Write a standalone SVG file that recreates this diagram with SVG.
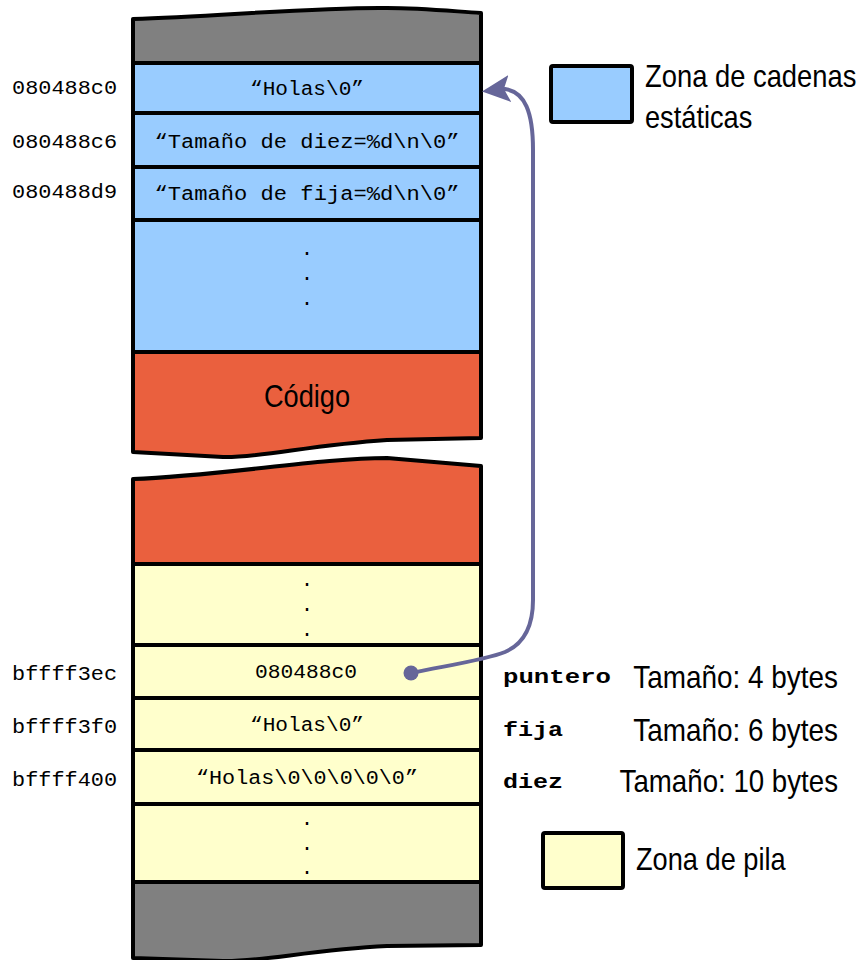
<svg xmlns="http://www.w3.org/2000/svg" width="859" height="960" viewBox="0 0 859 960">
<style>
.s{stroke:#000;stroke-width:4;stroke-linejoin:round}
.g{fill:#808080}.b{fill:#99ccff}.c{fill:#ea603e}.y{fill:#ffffcc}
.m{font-family:"Liberation Mono","DejaVu Sans Mono",monospace;font-size:20px;fill:#000}
.mb{font-family:"Liberation Mono","DejaVu Sans Mono",monospace;font-size:21px;font-weight:bold;fill:#000}
.t{font-family:"Liberation Sans",Arial,sans-serif;font-size:32px;fill:#000}
.ct{text-anchor:middle}
</style>
<defs>
<marker id="ah" markerWidth="8" markerHeight="8" refX="6" refY="4" orient="auto" markerUnits="strokeWidth">
<path d="M0,0.6 L7,4 L0,7.4 L1.5,4 Z" fill="#666699"/>
</marker>
</defs>
<g id="top-gray"><path class="s g" d="M133,19 C220,16 320,7 387,8 C420,8 450,11 481,13 L481,63 L133,63 Z"/></g>
<g id="s1"><rect class="s b" x="133" y="63" width="348" height="50"/><text class="m ct" x="307" y="95" textLength="114" lengthAdjust="spacingAndGlyphs">“Holas\0”</text></g>
<g id="s2"><rect class="s b" x="133" y="113" width="348" height="54"/><text class="m ct" x="307" y="148" textLength="305" lengthAdjust="spacingAndGlyphs">“Tamaño de diez=%d\n\0”</text></g>
<g id="s3"><rect class="s b" x="133" y="167" width="348" height="53"/><text class="m ct" x="307" y="200" textLength="305" lengthAdjust="spacingAndGlyphs">“Tamaño de fija=%d\n\0”</text></g>
<g id="s4"><rect class="s b" x="133" y="220" width="348" height="132"/><text class="m ct" x="307" y="255">.</text><text class="m ct" x="307" y="280">.</text><text class="m ct" x="307" y="305">.</text></g>
<g id="code-top"><path class="s c" d="M133,352 L481,352 L481,438 L387,440 C310,445 260,458 223,457 L133,452 Z"/><text class="t ct" transform="translate(307,407) scale(0.85,1)">Código</text></g>
<g id="code-bottom"><path class="s c" d="M133,479 C220,476 320,458 387,458 L481,466 L481,564 L133,564 Z"/></g>
<g id="y1"><rect class="s y" x="133" y="564" width="348" height="81"/><text class="m ct" x="307" y="586">.</text><text class="m ct" x="307" y="611">.</text><text class="m ct" x="307" y="636">.</text></g>
<g id="puntero"><rect class="s y" x="133" y="645" width="348" height="53"/><text class="m ct" x="306" y="678" textLength="102" lengthAdjust="spacingAndGlyphs">080488c0</text></g>
<g id="fija"><rect class="s y" x="133" y="698" width="348" height="52"/><text class="m ct" x="307" y="731" textLength="114" lengthAdjust="spacingAndGlyphs">“Holas\0”</text></g>
<g id="diez"><rect class="s y" x="133" y="750" width="348" height="54"/><text class="m ct" x="307" y="784" textLength="222" lengthAdjust="spacingAndGlyphs">“Holas\0\0\0\0\0”</text></g>
<g id="y5"><rect class="s y" x="133" y="804" width="348" height="78"/><text class="m ct" x="307" y="825">.</text><text class="m ct" x="307" y="850">.</text><text class="m ct" x="307" y="874">.</text></g>
<g id="bottom-gray"><path class="s g" d="M133,882 L481,882 L481,945 L387,946 C310,950 260,962 223,961 L133,958 Z"/></g>
<g id="addresses">
<text class="m" x="12" y="94" textLength="105" lengthAdjust="spacingAndGlyphs">080488c0</text>
<text class="m" x="12" y="148" textLength="105" lengthAdjust="spacingAndGlyphs">080488c6</text>
<text class="m" x="12" y="198" textLength="105" lengthAdjust="spacingAndGlyphs">080488d9</text>
<text class="m" x="12" y="680" textLength="105" lengthAdjust="spacingAndGlyphs">bffff3ec</text>
<text class="m" x="12" y="733" textLength="105" lengthAdjust="spacingAndGlyphs">bffff3f0</text>
<text class="m" x="12" y="786" textLength="105" lengthAdjust="spacingAndGlyphs">bffff400</text>
</g>
<g id="var-labels">
<text class="mb" x="503" y="683" textLength="108" lengthAdjust="spacingAndGlyphs">puntero</text>
<text class="mb" x="503" y="736" textLength="60" lengthAdjust="spacingAndGlyphs">fija</text>
<text class="mb" x="503" y="788" textLength="60" lengthAdjust="spacingAndGlyphs">diez</text>
<text class="t" transform="translate(838,688) scale(0.872,1)" text-anchor="end">Tamaño: 4 bytes</text>
<text class="t" transform="translate(838,741) scale(0.872,1)" text-anchor="end">Tamaño: 6 bytes</text>
<text class="t" transform="translate(838,792) scale(0.865,1)" text-anchor="end">Tamaño: 10 bytes</text>
</g>
<g id="legend-static"><rect class="s b" x="551" y="66" width="81" height="56" rx="2"/><text class="t" transform="translate(645,87) scale(0.855,1)">Zona de cadenas</text><text class="t" transform="translate(645,128) scale(0.85,1)">estáticas</text></g>
<g id="legend-stack"><rect class="s y" x="543" y="833" width="80" height="55" rx="2"/><text class="t" transform="translate(636,870) scale(0.85,1)">Zona de pila</text></g>
<g id="connectors">
<path d="M411,673 C450,665 485,660 505,652 C528,642 533,620 533,600 L533,150 C533,112 525,92 505,89 L486,91" fill="none" stroke="#666699" stroke-width="4" marker-end="url(#ah)"/>
<circle cx="411" cy="673" r="7.5" fill="#666699"/>
</g>
</svg>
